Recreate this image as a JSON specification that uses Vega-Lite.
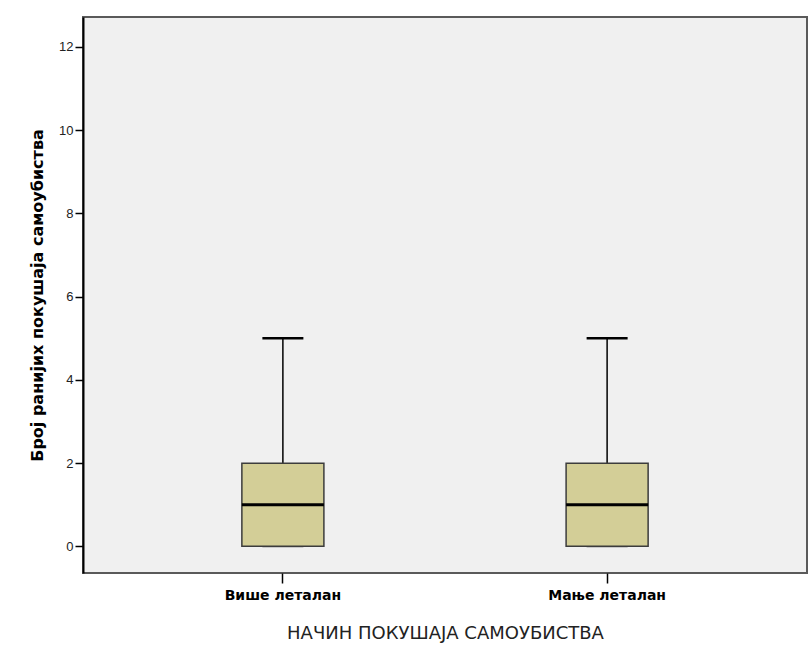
{
  "$schema": "https://vega.github.io/schema/vega-lite/v6.json",
  "autosize": "none",
  "width": 724,
  "height": 556,
  "padding": {"left": 83, "top": 17, "right": 3, "bottom": 80},
  "background": "#ffffff",
  "config": {
    "view": {"fill": "#f0f0f0", "stroke": "#5a5a5a", "strokeWidth": 2},
    "axis": {"grid": false, "domainColor": "#000000", "tickColor": "#000000", "labelColor": "#222222", "titleColor": "#000000"}
  },
  "data": {
    "values": [
      {"method": "Више леталан", "min": 0, "q1": 0, "median": 1, "q3": 2, "max": 5},
      {"method": "Мање леталан", "min": 0, "q1": 0, "median": 1, "q3": 2, "max": 5}
    ]
  },
  "encoding": {
    "x": {
      "field": "method",
      "type": "nominal",
      "sort": ["Више леталан", "Мање леталан"],
      "scale": {"type": "band", "paddingInner": 0.747, "paddingOuter": 0.49},
      "axis": {
        "title": "НАЧИН ПОКУШАЈА САМОУБИСТВА",
        "titleFont": "DejaVu Sans",
        "titleFontWeight": "normal",
        "titleFontSize": 18,
        "titleColor": "#222222",
        "titlePadding": 22,
        "labelAngle": 0,
        "labelFont": "DejaVu Sans",
        "labelFontWeight": "bold",
        "labelFontSize": 14,
        "labelColor": "#000000",
        "labelPadding": 5,
        "tickSize": 10,
        "tickWidth": 1.5,
        "domain": false
      }
    }
  },
  "layer": [
    {
      "mark": {"type": "rule", "color": "#000000", "strokeWidth": 1.5},
      "encoding": {
        "y": {
          "field": "q3",
          "type": "quantitative",
          "scale": {"domain": [-0.64, 12.72], "nice": false, "zero": false},
          "axis": {
            "title": "Број ранијих покушаја самоубиства",
            "titleFont": "DejaVu Sans",
            "titleFontWeight": "bold",
            "titleFontSize": 16,
            "titlePadding": 13,
            "values": [0, 2, 4, 6, 8, 10, 12],
            "format": "d",
            "labelFont": "Liberation Sans",
            "labelFontSize": 13,
            "labelPadding": 2,
            "tickSize": 8,
            "tickWidth": 1.5,
            "domainWidth": 2
          }
        },
        "y2": {"field": "max"}
      }
    },
    {
      "mark": {"type": "tick", "orient": "horizontal", "color": "#555555", "thickness": 2, "size": 41, "opacity": 1},
      "encoding": {"y": {"field": "min", "type": "quantitative"}}
    },
    {
      "mark": {"type": "bar", "fill": "#d3ce97", "stroke": "#3c3c3c", "strokeWidth": 1.5},
      "encoding": {
        "y": {"field": "q1", "type": "quantitative"},
        "y2": {"field": "q3"}
      }
    },
    {
      "mark": {"type": "tick", "orient": "horizontal", "color": "#000000", "thickness": 2.5, "size": 41, "opacity": 1},
      "encoding": {"y": {"field": "max", "type": "quantitative"}}
    },
    {
      "mark": {"type": "tick", "orient": "horizontal", "color": "#000000", "thickness": 3, "size": 82, "opacity": 1},
      "encoding": {"y": {"field": "median", "type": "quantitative"}}
    }
  ]
}
